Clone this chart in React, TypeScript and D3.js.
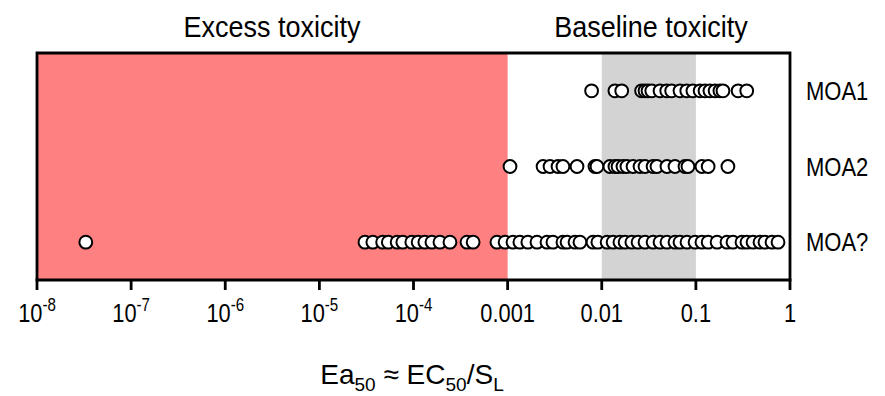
import React from 'react';
import * as d3 from 'd3';

const categories = ['MOA1', 'MOA2', 'MOA?'];

const moa1Values = [
  0.0078, 0.0138, 0.0163, 0.0265, 0.0288, 0.031, 0.034, 0.0416, 0.049, 0.0553,
  0.0678, 0.08, 0.093, 0.111, 0.125, 0.141, 0.16, 0.18, 0.194, 0.281, 0.347,
];

const moa2Values = [
  0.00106, 0.00238, 0.00282, 0.00343, 0.00387, 0.00546, 0.00847, 0.0089, 0.0122,
  0.0138, 0.0149, 0.0168, 0.0185, 0.0215, 0.0255, 0.0288, 0.0351, 0.0386, 0.0493,
  0.06, 0.0766, 0.0824, 0.116, 0.135, 0.219,
];

const moaUnknownValues = [
  3.3e-8, 3.05e-5, 3.7e-5, 4.7e-5, 5.4e-5, 6.7e-5, 7.7e-5, 9.6e-5, 1.12e-4, 1.32e-4,
  1.57e-4, 1.91e-4, 2.44e-4, 3.7e-4, 4.3e-4, 7.7e-4, 9.4e-4, 1.14e-3, 1.35e-3,
  1.64e-3, 2.05e-3, 2.62e-3, 3.03e-3, 3.87e-3, 4.28e-3, 5.2e-3, 5.87e-3, 8.07e-3,
  9.1e-3, 0.0114, 0.0132, 0.0156, 0.0177, 0.0209, 0.0243, 0.0288, 0.0351, 0.0416,
  0.0493, 0.06, 0.0678, 0.0805, 0.098, 0.116, 0.135, 0.168, 0.214, 0.248, 0.309,
  0.349, 0.405, 0.48, 0.542, 0.644, 0.746,
];

const tickValues = [1e-8, 1e-7, 1e-6, 1e-5, 1e-4, 1e-3, 1e-2, 1e-1, 1];
const tickBases = ['10', '10', '10', '10', '10', '0.001', '0.01', '0.1', '1'];
const tickExponents = ['-8', '-7', '-6', '-5', '-4', '', '', '', ''];

const regionLabels = ['Excess toxicity', 'Baseline toxicity'];
const excessLimit = [1e-8, 0.001];
const baselineBand = [0.01, 0.1];

const FONT = '"Liberation Sans", Arial, sans-serif';

export default function App() {
  const width = 885;
  const height = 396;
  const left = 37;
  const right = 790;
  const top = 53;
  const bottom = 280;

  const x = d3.scaleLog().domain([1e-8, 1]).range([left, right]);
  const y = d3.scaleBand<string>().domain(categories).range([top, bottom]);

  const series = [moa1Values, moa2Values, moaUnknownValues];

  return (
    <svg
      width={width}
      height={height}
      style={{ position: 'absolute', left: 0, top: 0, background: '#fff' }}
      fontFamily={FONT}
    >
      {/* shaded regions */}
      <rect
        x={x(excessLimit[0])}
        y={top}
        width={x(excessLimit[1]) - x(excessLimit[0])}
        height={bottom - top}
        fill="#ff8080"
      />
      <rect
        x={x(baselineBand[0])}
        y={top}
        width={x(baselineBand[1]) - x(baselineBand[0])}
        height={bottom - top}
        fill="#d3d3d3"
      />

      {/* points */}
      {series.map((vals, i) =>
        vals.map((v, j) => (
          <circle
            key={`${i}-${j}`}
            cx={x(v)}
            cy={(y(categories[i]) as number) + y.bandwidth() / 2}
            r={6.4}
            fill="#fff"
            stroke="#000"
            strokeWidth={2}
          />
        ))
      )}

      {/* frame */}
      <path
        d={`M${left},${bottom} L${left},${top} L${right},${top} L${right},${bottom}`}
        fill="none"
        stroke="#000"
        strokeWidth={2.8}
      />
      <line x1={left - 1.4} x2={right + 1.4} y1={bottom} y2={bottom} stroke="#000" strokeWidth={2.8} />

      {/* ticks */}
      {tickValues.map((t, i) => (
        <g key={i} transform={`translate(${x(t)},0)`}>
          <line y1={bottom} y2={bottom + 10} stroke="#000" strokeWidth={2.8} />
          <text
            transform={`translate(0,${bottom + 42}) scale(0.84,1)`}
            textAnchor="middle"
            fontSize={26}
            fill="#000"
          >
            <tspan>{tickBases[i]}</tspan>
            {tickExponents[i] && (
              <tspan dy={-11} fontSize={18}>
                {tickExponents[i]}
              </tspan>
            )}
          </text>
        </g>
      ))}

      {/* category labels */}
      {categories.map((c) => (
        <text
          key={c}
          transform={`translate(${right + 16},${(y(c) as number) + y.bandwidth() / 2 + 9}) scale(0.88,1)`}
          fontSize={25}
          fill="#000"
        >
          {c}
        </text>
      ))}

      {/* region labels */}
      <text transform="translate(272,37) scale(0.9,1)" textAnchor="middle" fontSize={30} fill="#000">
        {regionLabels[0]}
      </text>
      <text transform="translate(651,37) scale(0.9,1)" textAnchor="middle" fontSize={30} fill="#000">
        {regionLabels[1]}
      </text>

      {/* axis title */}
      <text x={412} y={384} textAnchor="middle" fontSize={28} fill="#000">
        <tspan>Ea</tspan>
        <tspan dy={7} fontSize={19}>50</tspan>
        <tspan dy={-7}> ≈ EC</tspan>
        <tspan dy={7} fontSize={19}>50</tspan>
        <tspan dy={-7}>/S</tspan>
        <tspan dy={7} fontSize={19}>L</tspan>
      </text>
    </svg>
  );
}
